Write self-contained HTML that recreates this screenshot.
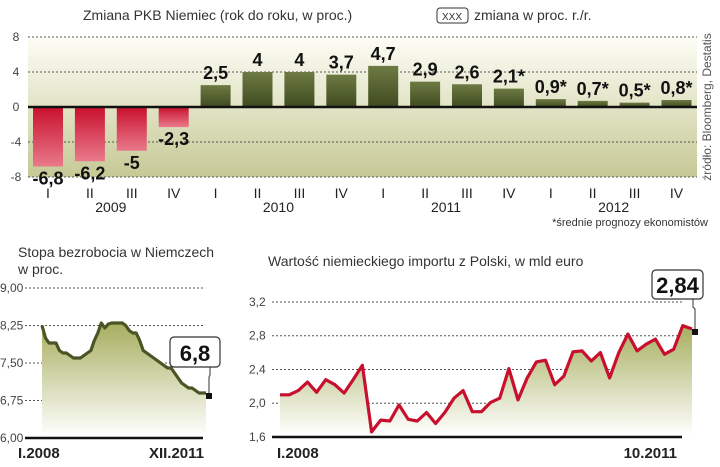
<!DOCTYPE html>
<html><head><meta charset="utf-8">
<style>
html,body{margin:0;padding:0;background:#fff;}
svg{display:block;font-family:"Liberation Sans Narrow","Liberation Sans",sans-serif;}
</style></head>
<body>
<svg id="c" width="720" height="467" viewBox="0 0 720 467" xmlns="http://www.w3.org/2000/svg">
<defs>
<linearGradient id="bgG" x1="0" y1="0" x2="0" y2="1"><stop offset="0" stop-color="#fdfdf6"/><stop offset="1" stop-color="#c6c995"/></linearGradient>
<linearGradient id="negG" x1="0" y1="0" x2="0" y2="1"><stop offset="0" stop-color="#c8102e"/><stop offset="1" stop-color="#e9798a"/></linearGradient>
<linearGradient id="posG" x1="0" y1="0" x2="0" y2="1"><stop offset="0" stop-color="#6d7a43"/><stop offset="1" stop-color="#3f4b1f"/></linearGradient>
<linearGradient id="areaG" x1="0" y1="0" x2="0" y2="1"><stop offset="0" stop-color="#a7ae5e"/><stop offset="1" stop-color="#ffffff"/></linearGradient>
</defs>
<text x="83" y="20" font-size="14" fill="#333">Zmiana PKB Niemiec (rok do roku, w proc.)</text>
<rect x="437" y="8" width="31" height="15" rx="3" fill="#fff" stroke="#333" stroke-width="1"/>
<text x="452" y="20" font-size="10" text-anchor="middle" fill="#333">XXX</text>
<text x="474" y="20" font-size="14" fill="#333">zmiana w proc. r./r.</text>
<rect x="28" y="37" width="669" height="140" fill="url(#bgG)"/>
<g id="gdp"></g>
<text transform="translate(711,107) rotate(-90)" font-size="12" fill="#555" text-anchor="middle">źródło: Bloomberg, Destatis</text>
<text x="708" y="226" font-size="11" fill="#333" text-anchor="end">*średnie prognozy ekonomistów</text>

<text x="18" y="257" font-size="14" fill="#333">Stopa bezrobocia w Niemczech</text>
<text x="18" y="274" font-size="14" fill="#333">w proc.</text>
<g id="unemp"></g>
<text x="18" y="458" font-size="15" font-weight="bold" fill="#222">I.2008</text>
<text x="204" y="458" font-size="15" font-weight="bold" fill="#222" text-anchor="end">XII.2011</text>

<text x="268" y="266" font-size="14" fill="#333">Wartość niemieckiego importu z Polski, w mld euro</text>
<g id="imp"></g>
<text x="277" y="458" font-size="15" font-weight="bold" fill="#222">I.2008</text>
<text x="677" y="458" font-size="15" font-weight="bold" fill="#222" text-anchor="end">10.2011</text>
</svg>
<script>
const gdpQuarters = ["I","II","III","IV","I","II","III","IV","I","II","III","IV","I","II","III","IV"];
const gdpYears = ["2009","2010","2011","2012"];
const gdpValues = [-6.8,-6.2,-5,-2.3,2.5,4,4,3.7,4.7,2.9,2.6,2.1,0.9,0.7,0.5,0.8];
const gdpLabels = ["-6,8","-6,2","-5","-2,3","2,5","4","4","3,7","4,7","2,9","2,6","2,1*","0,9*","0,7*","0,5*","0,8*"];
const gdpTicks = [8,4,0,-4,-8];

const unempValues = [8.25,8.0,7.9,7.9,7.9,7.75,7.7,7.7,7.65,7.6,7.6,7.6,7.65,7.7,7.75,7.95,8.1,8.3,8.2,8.28,8.3,8.3,8.3,8.3,8.25,8.15,8.1,8.1,7.95,7.75,7.7,7.65,7.6,7.55,7.5,7.45,7.4,7.4,7.3,7.2,7.1,7.05,7.0,7.0,6.95,6.9,6.9,6.9];
const unempTicks = [9.0,8.25,7.5,6.75,6.0];
const unempTickLabels = ["9,00","8,25","7,50","6,75","6,00"];
const unempLast = "6,8";

const impValues = [2.1,2.1,2.15,2.25,2.13,2.28,2.22,2.12,2.28,2.45,1.66,1.8,1.79,1.98,1.81,1.79,1.89,1.76,1.89,2.06,2.15,1.9,1.9,2.01,2.06,2.41,2.04,2.3,2.49,2.51,2.22,2.32,2.61,2.62,2.5,2.6,2.3,2.6,2.82,2.62,2.7,2.76,2.58,2.64,2.92,2.88];
const impTicks = [3.2,2.8,2.4,2.0,1.6];
const impTickLabels = ["3,2","2,8","2,4","2,0","1,6"];
const impLast = "2,84";

const NS="http://www.w3.org/2000/svg";
function mk(parent,tag,attrs,text){const e=document.createElementNS(NS,tag);for(const k in attrs)e.setAttribute(k,attrs[k]);if(text!==undefined)e.textContent=text;parent.appendChild(e);return e;}

(function(){
  const g=document.getElementById('gdp');
  const y=v=>107-v*8.75;
  const x=i=>48+i*41.9;
  gdpTicks.forEach(t=>{
    if(t!==0){const l=mk(g,'line',{x1:28,x2:697,y1:y(t),y2:y(t),stroke:'#555','stroke-dasharray':'2,2','stroke-width':1});
    
    }
    const tx=mk(g,'text',{x:16,y:y(t)+4,'font-size':12,fill:'#444','text-anchor':'middle'},String(t));
    
    
  });
  gdpValues.forEach((v,i)=>{
    const top=v>=0?y(v):y(0), h=Math.abs(y(v)-y(0));
    const r=mk(g,'rect',{x:x(i)-15,y:top,width:30,height:h,fill:v>=0?'url(#posG)':'url(#negG)'});
    
    
    const ly=v>=0?y(v)-6:y(v)+18;
    const t=mk(g,'text',{x:x(i),y:ly,'font-size':18,'font-weight':'bold',fill:'#111','text-anchor':'middle'},gdpLabels[i]);
    
    
    const q=mk(g,'text',{x:x(i),y:198,'font-size':14,fill:'#222','text-anchor':'middle'},gdpQuarters[i]);
    
    
  });
  gdpYears.forEach((yr,k)=>{
    const t=mk(g,'text',{x:(x(k*4+1)+x(k*4+2))/2,y:212,'font-size':14,fill:'#222','text-anchor':'middle'},yr);
    
    
  });
  const z=mk(g,'line',{x1:28,x2:697,y1:y(0),y2:y(0),stroke:'#111','stroke-width':2.5});
  
  
})();

function lineChart(gid,vals,ticks,tlabels,opt){
  const g=document.getElementById(gid);
  const y=v=>opt.y0-(v-opt.vmin)*opt.ppu;
  const x=i=>opt.xs+i*(opt.xe-opt.xs)/(vals.length-1);
  ticks.forEach((t,k)=>{
    if(t!==opt.vmin){const l=mk(g,'line',{x1:opt.gx1,x2:opt.gx2,y1:y(t),y2:y(t),stroke:'#555','stroke-dasharray':'2,2','stroke-width':1});
    
    }
    const tx=mk(g,'text',{x:opt.lx,y:y(t)+4,'font-size':12,fill:'#444'},tlabels[k]);
    
    
  });
  let d='';vals.forEach((v,i)=>{d+=(i?'L':'M')+x(i).toFixed(1)+','+y(v).toFixed(1);});
  const area=mk(g,'path',{d:d+'L'+x(vals.length-1)+','+(opt.y0-2)+'L'+x(0)+','+(opt.y0-2)+'Z',fill:'url(#areaG)'});
  
  
  const ax=mk(g,'line',{x1:opt.gx1,x2:opt.gx2,y1:opt.y0,y2:opt.y0,stroke:'#111','stroke-width':2.5});
  
  
  const ln=mk(g,'path',{d:d,fill:'none',stroke:opt.color,'stroke-width':3.2,'stroke-linejoin':'round'});
  
  
  const lx=x(vals.length-1)+3, ly=y(vals[vals.length-1])+3;
  const m=mk(g,'rect',{x:lx-3,y:ly-3,width:6,height:6,fill:'#111'});
  
  
  const b=opt.box;
  const lead=mk(g,'path',{d:`M${b.x+b.w-10},${b.y+b.h} L${b.x+b.w-10},${b.y+b.h+8} L${lx},${b.y+b.h+10} L${lx},${ly-3}`,fill:'none',stroke:'#333','stroke-width':1});
  
  
  const br=mk(g,'rect',{x:b.x,y:b.y,width:b.w,height:b.h,rx:4,fill:'#fff',stroke:'#333','stroke-width':1.2});
  
  
  const bt=mk(g,'text',{x:b.x+b.w/2,y:b.y+b.h-6,'font-size':22,'font-weight':'bold',fill:'#111','text-anchor':'middle'},opt.last);
  
  
}
lineChart('unemp',unempValues,unempTicks,unempTickLabels,{y0:438,vmin:6.0,ppu:50,xs:42,xe:206,gx1:25,gx2:203,lx:0,color:'#4a5424',last:unempLast,box:{x:170,y:337,w:50,h:30}});
lineChart('imp',impValues,impTicks,impTickLabels,{y0:437,vmin:1.6,ppu:84.4,xs:280,xe:692,gx1:272,gx2:682,lx:249,color:'#c8102e',last:impLast,box:{x:652,y:270,w:51,h:29}});
</script>
</body></html>
